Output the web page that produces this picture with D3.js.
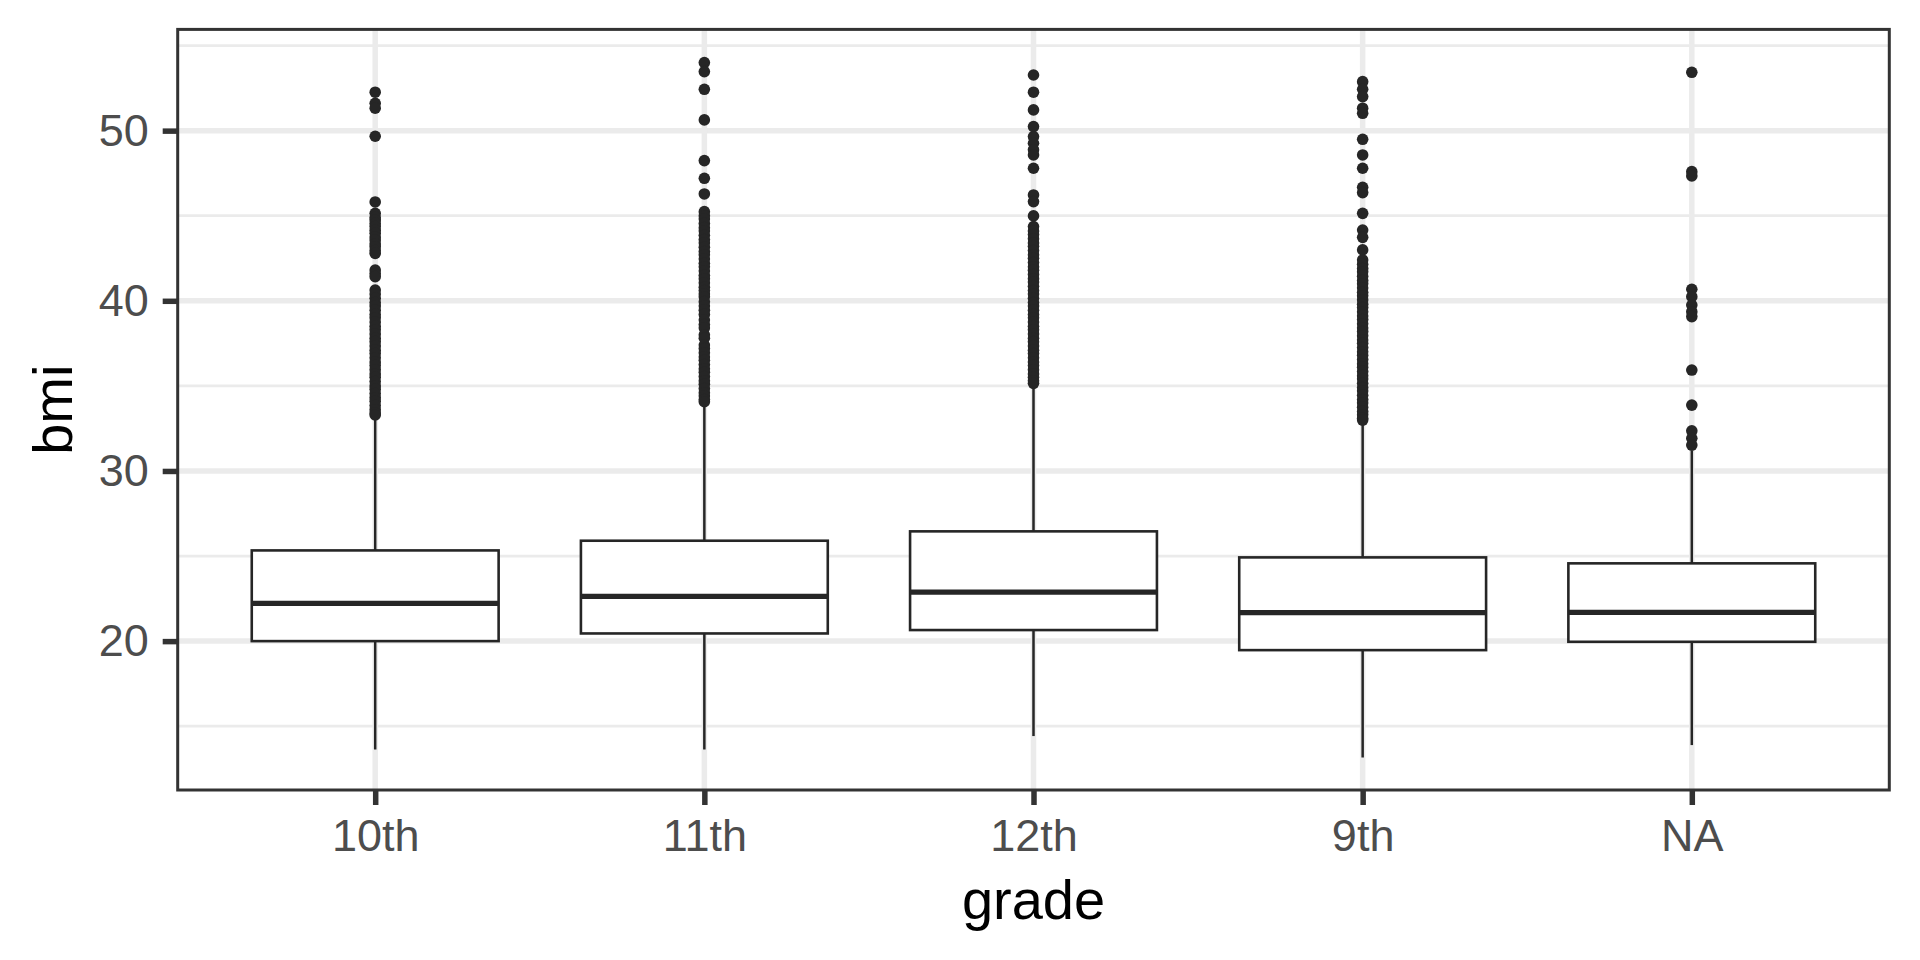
<!DOCTYPE html>
<html>
<head>
<meta charset="utf-8">
<script src="https://cdn.jsdelivr.net/npm/d3@7"></script>
<style>
  html, body { margin: 0; padding: 0; background: #ffffff; }
  svg { display: block; font-family: "Liberation Sans", Arial, Helvetica, sans-serif; }
</style>
</head>
<body>
<svg id="chart" width="1920" height="960"></svg>
<script>
// ---- data ----
const categories = ["10th", "11th", "12th", "9th", "NA"];
const q1 =          [20.00, 20.45, 20.65, 19.47, 19.96];
const medians =     [22.22, 22.63, 22.88, 21.67, 21.69];
const q3 =          [25.33, 25.90, 26.45, 24.92, 24.57];
const whiskerLow =  [13.63, 13.63, 14.42, 13.16, 13.89];
const whiskerHigh = [33.20, 33.90, 35.00, 32.90, 31.20];

const outliers10th = [52.26, 51.61, 51.32, 49.67, 45.81, 45.14, 44.9, 44.75, 44.55, 44.36, 44.15, 43.97, 43.75,
  43.57, 43.35, 43.18, 42.95, 42.79, 41.81, 41.6, 41.42, 40.63, 40.4, 40.15, 39.9, 39.7, 39.45, 39.2, 39.0,
  38.75, 38.5, 38.3, 38.05, 37.8, 37.6, 37.35, 37.1, 36.9, 36.65, 36.4, 36.2, 35.95, 35.7, 35.5, 35.25, 35.0,
  34.8, 34.55, 34.3, 34.1, 33.85, 33.6, 33.4, 33.29];
const outliers11th = [54.0, 53.47, 52.43, 50.63, 48.24, 47.2, 46.28, 45.24, 45.0, 44.8, 44.55, 44.3, 44.1, 43.85,
  43.6, 43.4, 43.15, 42.9, 42.7, 42.45, 42.2, 42.0, 41.75, 41.5, 41.3, 41.05, 40.8, 40.6, 40.4, 40.24, 39.95,
  39.7, 39.45, 39.2, 38.87, 38.6, 38.4, 38.0, 37.8, 37.4, 37.2, 36.95, 36.7, 36.5, 36.25, 36.0, 35.8, 35.55,
  35.3, 35.1, 34.85, 34.6, 34.4, 34.2, 34.07];
const outliers12th = [53.27, 52.26, 51.22, 50.24, 49.65, 49.26, 48.87, 48.57, 47.79, 46.22, 45.83, 44.99, 44.36,
  44.1, 43.9, 43.65, 43.4, 43.2, 42.95, 42.7, 42.5, 42.25, 42.0, 41.8, 41.55, 41.3, 41.1, 40.85, 40.6, 40.4,
  40.15, 39.9, 39.7, 39.45, 39.2, 39.0, 38.75, 38.5, 38.3, 38.05, 37.8, 37.6, 37.35, 37.1, 36.9, 36.65, 36.4,
  36.2, 35.95, 35.7, 35.5, 35.3, 35.15];
const outliers9th = [52.88, 52.43, 52.0, 51.32, 51.02, 49.49, 48.57, 47.79, 46.67, 46.36, 45.14, 44.16, 43.73,
  42.99, 42.4, 42.15, 41.9, 41.7, 41.45, 41.2, 41.0, 40.75, 40.5, 40.3, 40.05, 39.8, 39.6, 39.35, 39.1, 38.9,
  38.65, 38.4, 38.2, 37.95, 37.7, 37.5, 37.25, 37.0, 36.8, 36.55, 36.3, 36.1, 35.85, 35.6, 35.4, 35.15, 34.9,
  34.7, 34.45, 34.2, 34.0, 33.75, 33.5, 33.3, 33.1, 32.99];
const outliersNA = [53.43, 47.59, 47.34, 40.68, 40.24, 39.75, 39.36, 39.07, 35.93, 33.87, 32.36, 31.92, 31.52];
const outliers = [outliers10th, outliers11th, outliers12th, outliers9th, outliersNA];

const yMajorTicks = [20, 30, 40, 50];
const yMinorTicks = [15, 25, 35, 45, 55];
const yLimits = [11.25, 55.95];
const xTitle = "grade";
const yTitle = "bmi";

// ---- layout ----
const panel = { left: 177.7, right: 1889.3, top: 29.4, bottom: 790 };
const ink = "#262626";
const gridCol = "#EBEBEB";

const svg = d3.select("#chart");

const x = d3.scalePoint().domain(categories).range([panel.left, panel.right]).padding(0.6);
const y = d3.scaleLinear().domain(yLimits).range([panel.bottom, panel.top]);
const boxW = x.step() * 0.75;

// panel background
svg.append("rect")
  .attr("x", panel.left).attr("y", panel.top)
  .attr("width", panel.right - panel.left).attr("height", panel.bottom - panel.top)
  .attr("fill", "#ffffff");

const grid = svg.append("g");
grid.selectAll("line.minor").data(yMinorTicks).join("line")
  .attr("class", "minor")
  .attr("x1", panel.left).attr("x2", panel.right)
  .attr("y1", d => y(d)).attr("y2", d => y(d))
  .attr("stroke", gridCol).attr("stroke-width", 2.8);
grid.selectAll("line.majy").data(yMajorTicks).join("line")
  .attr("class", "majy")
  .attr("x1", panel.left).attr("x2", panel.right)
  .attr("y1", d => y(d)).attr("y2", d => y(d))
  .attr("stroke", gridCol).attr("stroke-width", 5.5);
grid.selectAll("line.majx").data(categories).join("line")
  .attr("class", "majx")
  .attr("x1", d => x(d)).attr("x2", d => x(d))
  .attr("y1", panel.top).attr("y2", panel.bottom)
  .attr("stroke", gridCol).attr("stroke-width", 5.5);

// boxplots
const boxes = categories.map((c, i) => ({
  cat: c, q1: q1[i], med: medians[i], q3: q3[i], lo: whiskerLow[i], hi: whiskerHigh[i], out: outliers[i]
}));

const g = svg.append("g");
const bg = g.selectAll("g.box").data(boxes).join("g").attr("class", "box");

// whiskers
bg.append("line")
  .attr("x1", d => x(d.cat)).attr("x2", d => x(d.cat))
  .attr("y1", d => y(d.q3)).attr("y2", d => y(d.hi))
  .attr("stroke", ink).attr("stroke-width", 2.5);
bg.append("line")
  .attr("x1", d => x(d.cat)).attr("x2", d => x(d.cat))
  .attr("y1", d => y(d.q1)).attr("y2", d => y(d.lo))
  .attr("stroke", ink).attr("stroke-width", 2.5);
// box
bg.append("rect")
  .attr("x", d => x(d.cat) - boxW / 2)
  .attr("width", boxW)
  .attr("y", d => y(d.q3))
  .attr("height", d => y(d.q1) - y(d.q3))
  .attr("fill", "#ffffff").attr("stroke", ink).attr("stroke-width", 2.6);
// median
bg.append("line")
  .attr("x1", d => x(d.cat) - boxW / 2).attr("x2", d => x(d.cat) + boxW / 2)
  .attr("y1", d => y(d.med)).attr("y2", d => y(d.med))
  .attr("stroke", ink).attr("stroke-width", 5.2);
// outliers
bg.selectAll("circle").data(d => d.out.map(v => ({ cat: d.cat, v }))).join("circle")
  .attr("cx", d => x(d.cat)).attr("cy", d => y(d.v)).attr("r", 5.8)
  .attr("fill", ink);

// panel border
svg.append("rect")
  .attr("x", panel.left).attr("y", panel.top)
  .attr("width", panel.right - panel.left).attr("height", panel.bottom - panel.top)
  .attr("fill", "none").attr("stroke", "#333333").attr("stroke-width", 3);

// axes
const yAxis = svg.append("g")
  .attr("transform", `translate(${panel.left},0)`)
  .call(d3.axisLeft(y).tickValues(yMajorTicks).tickSize(15).tickPadding(14).tickFormat(d3.format("d")));
const xAxis = svg.append("g")
  .attr("transform", `translate(0,${panel.bottom})`)
  .call(d3.axisBottom(x).tickSize(15).tickPadding(14.5));

[yAxis, xAxis].forEach(a => {
  a.select(".domain").remove();
  a.selectAll(".tick line").attr("stroke", "#333333").attr("stroke-width", 5.5);
  a.selectAll(".tick text")
    .attr("fill", "#4D4D4D")
    .style("font-size", "45px")
    .style("font-family", "'Liberation Sans', Arial, Helvetica, sans-serif");
});

// titles
svg.append("text")
  .attr("x", (panel.left + panel.right) / 2).attr("y", 919.3)
  .attr("text-anchor", "middle")
  .style("font-size", "56px").attr("fill", "#000000")
  .text(xTitle);
svg.append("text")
  .attr("transform", `translate(72,${(panel.top + panel.bottom) / 2}) rotate(-90)`)
  .attr("text-anchor", "middle")
  .style("font-size", "56px").attr("fill", "#000000")
  .text(yTitle);
</script>
</body>
</html>
